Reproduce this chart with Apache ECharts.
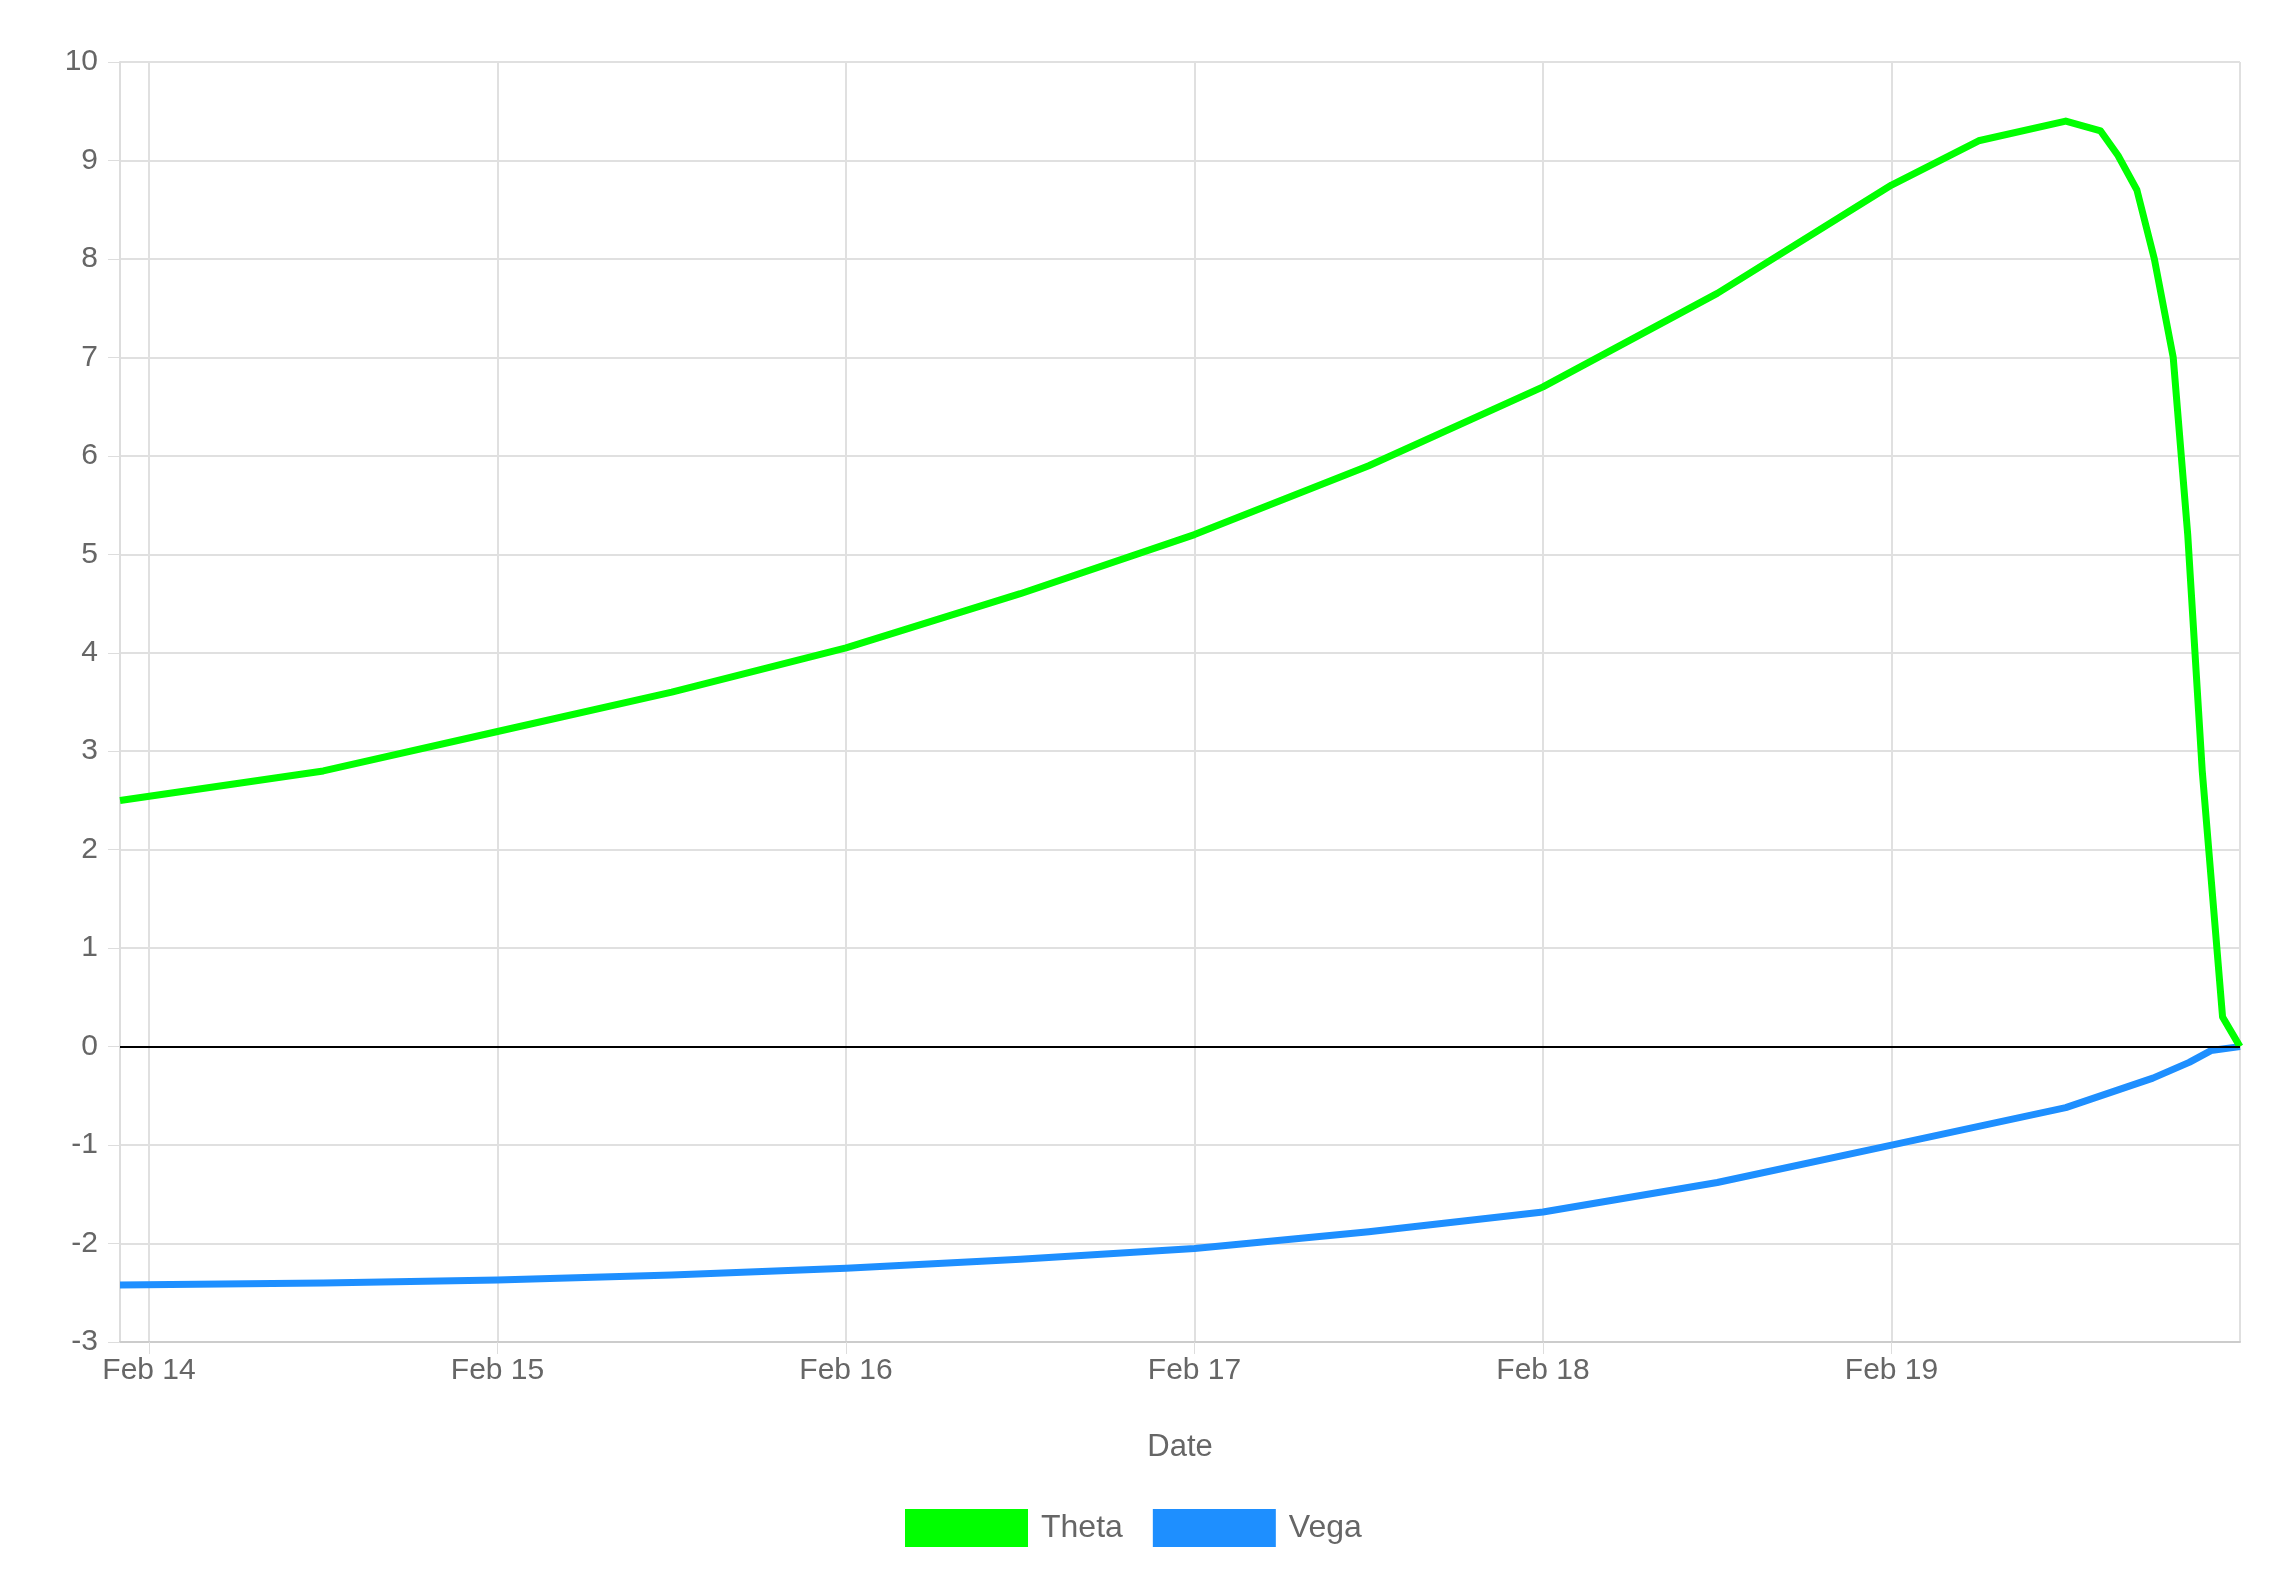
<!DOCTYPE html>
<html>
<head>
<meta charset="utf-8">
<script src="https://cdn.jsdelivr.net/npm/echarts@6/dist/echarts.min.js"></script>
<style>
  html, body { margin: 0; padding: 0; background: #fff; }
  #chart { width: 2286px; height: 1572px; }
</style>
</head>
<body>
<div id="chart"></div>
<script>
// hours from Feb 14 00:00
const thetaHours = [-2, 12, 24, 36, 48, 60, 72, 84, 96, 108, 120, 126, 132, 134.4, 135.6, 136.9, 138.1, 139.4, 140.4, 141.4, 142.8, 144];
const thetaValues = [2.5, 2.8, 3.2, 3.6, 4.05, 4.6, 5.2, 5.9, 6.7, 7.65, 8.75, 9.2, 9.4, 9.3, 9.05, 8.7, 8.0, 7.0, 5.2, 2.8, 0.3, 0];
const vegaHours = [-2, 12, 24, 36, 48, 60, 72, 84, 96, 108, 120, 132, 138, 140.5, 142, 144];
const vegaValues = [-2.42, -2.4, -2.37, -2.32, -2.25, -2.16, -2.05, -1.88, -1.68, -1.38, -1.0, -0.62, -0.32, -0.16, -0.04, 0];
const yTicks = [-3, -2, -1, 0, 1, 2, 3, 4, 5, 6, 7, 8, 9, 10];

const base = new Date(2024, 1, 14, 0, 0, 0).getTime();
const toTime = h => base + h * 3600000;
const pairs = (hs, vs) => hs.map((h, i) => [toTime(h), vs[i]]);
const font = 'Liberation Sans, Arial, sans-serif';

const chart = echarts.init(document.getElementById('chart'));
chart.setOption({
  animation: false,
  textStyle: { fontFamily: font },
  grid: { left: 120, right: 46, top: 62, bottom: 230 },
  legend: {
    bottom: 20, left: 900, itemWidth: 123, itemHeight: 38, itemGap: 30, icon: 'rect',
    textStyle: { fontSize: 32, color: '#666', fontFamily: font, padding: [0, 0, 0, 8] },
    data: ['Theta', 'Vega']
  },
  xAxis: {
    type: 'time',
    min: toTime(-2), max: toTime(144),
    minInterval: 86400000, maxInterval: 86400000,
    name: 'Date', nameLocation: 'middle', nameGap: 90,
    nameTextStyle: { fontSize: 31, color: '#666' },
    axisLine: { onZero: false, lineStyle: { color: '#ccc', width: 2 } },
    axisTick: { show: true, length: 12, lineStyle: { color: '#ddd' } },
    axisLabel: { fontSize: 30, color: '#666', margin: 14, formatter: '{MMM} {d}', hideOverlap: true },
    splitLine: { show: true, lineStyle: { color: '#e0e0e0', width: 2 } }
  },
  yAxis: {
    type: 'value', min: yTicks[0], max: yTicks[yTicks.length - 1], interval: 1,
    axisLine: { show: true, lineStyle: { color: '#ddd', width: 2 } },
    axisTick: { show: true, length: 12, lineStyle: { color: '#ddd' } },
    axisLabel: { fontSize: 30, color: '#666', margin: 22 },
    splitLine: { lineStyle: { color: '#e0e0e0', width: 2 } }
  },
  series: [
    {
      name: 'Theta', type: 'line', data: pairs(thetaHours, thetaValues),
      showSymbol: false, smooth: false,
      lineStyle: { color: '#00ff00', width: 7, join: 'round' }, itemStyle: { color: '#00ff00' },
      markLine: {
        silent: true, symbol: 'none', label: { show: false },
        lineStyle: { color: '#000', width: 2, type: 'solid' },
        data: [{ yAxis: 0 }]
      },
      z: 3
    },
    {
      name: 'Vega', type: 'line', data: pairs(vegaHours, vegaValues),
      showSymbol: false, smooth: false,
      lineStyle: { color: '#1e8fff', width: 7, join: 'round' }, itemStyle: { color: '#1e8fff' },
      z: 2
    }
  ]
});
</script>
</body>
</html>
